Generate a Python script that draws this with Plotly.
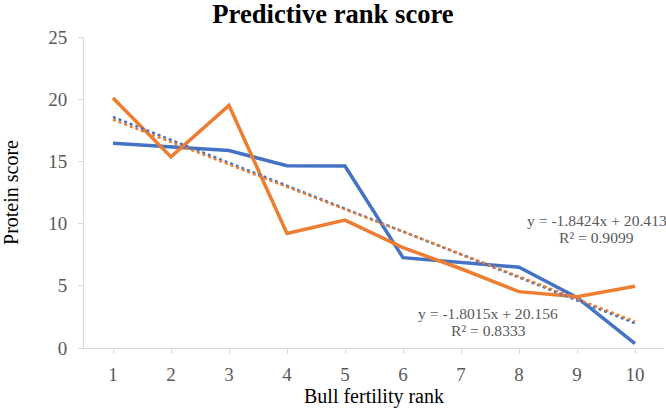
import plotly.graph_objects as go

ranks = [1, 2, 3, 4, 5, 6, 7, 8, 9, 10]
tick_labels = ["1", "2", "3", "4", "5", "6", "7", "8", "9", "10"]
series_blue = [16.46, 16.17, 15.87, 14.66, 14.63, 7.26, 6.9, 6.5, 4.07, 0.35]
series_orange = [20.1, 15.36, 19.5, 9.2, 10.28, 8.07, 6.37, 4.53, 4.13, 4.96]
trend_blue = (-1.8424, 20.413, 0.9099)
trend_orange = (-1.8015, 20.156, 0.8333)

BLUE = "#4472C4"
ORANGE = "#ED7D31"
GRAY = "#595959"
AX = "#D9D9D9"
FONT = "Liberation Serif"

fig = go.Figure()
fig.add_trace(go.Scatter(x=ranks, y=series_blue, mode="lines",
                         line=dict(color=BLUE, width=3.5), showlegend=False))
fig.add_trace(go.Scatter(x=ranks, y=series_orange, mode="lines",
                         line=dict(color=ORANGE, width=3.5), showlegend=False))
for (m, b, r2), col in [(trend_blue, BLUE), (trend_orange, ORANGE)]:
    xs = [ranks[0], ranks[-1]]
    fig.add_trace(go.Scatter(x=xs, y=[m * x + b for x in xs], mode="lines",
                             line=dict(color=col, width=2.5, dash="dot"),
                             showlegend=False))

def add_eq(trend, x, y):
    m, b, r2 = trend
    fig.add_annotation(x=x, y=y, xref="x", yref="y", yshift=8.5,
                       text=f"y = {m}x + {b}", showarrow=False,
                       font=dict(family=FONT, size=15.6, color=GRAY))
    fig.add_annotation(x=x, y=y, xref="x", yref="y", yshift=-8.5,
                       text=f"R² = {r2}", showarrow=False,
                       font=dict(family=FONT, size=15.6, color=GRAY))

add_eq(trend_blue, 9.34, 9.55)
add_eq(trend_orange, 7.47, 2.11)

fig.update_layout(
    width=666, height=408,
    margin=dict(l=84, r=2, t=37, b=60),
    paper_bgcolor="white", plot_bgcolor="white",
    title=dict(text="<b>Predictive rank score</b>", x=0.5, xanchor="center",
               xref="container", y=0.966, yanchor="middle", yref="container",
               font=dict(family=FONT, size=26.6, color="black")),
    font=dict(family=FONT),
    xaxis=dict(range=[0.5, 10.5], tickmode="array", tickvals=ranks, ticktext=tick_labels,
               showgrid=False, zeroline=False, showline=True, linecolor=AX, linewidth=1,
               ticks="outside", ticklen=5, tickcolor=AX, automargin=False,
               ticklabelstandoff=4,
               tickfont=dict(family=FONT, size=19, color=GRAY),
               title=dict(text="Bull fertility rank", standoff=6,
                          font=dict(family=FONT, size=20, color="black"))),
    yaxis=dict(range=[0, 25], tickvals=[0, 5, 10, 15, 20, 25],
               showgrid=False, zeroline=False, showline=True, linecolor=AX, linewidth=1,
               ticks="outside", ticklen=5, tickcolor=AX, automargin=False,
               ticklabelstandoff=7,
               tickfont=dict(family=FONT, size=19, color=GRAY),
               title=dict(text="Protein score", standoff=29,
                          font=dict(family=FONT, size=20, color="black"))),
)

fig.write_html("out.html", config={"displayModeBar": False},
               post_script="document.body.style.margin='0px';document.body.style.overflow='hidden';")
